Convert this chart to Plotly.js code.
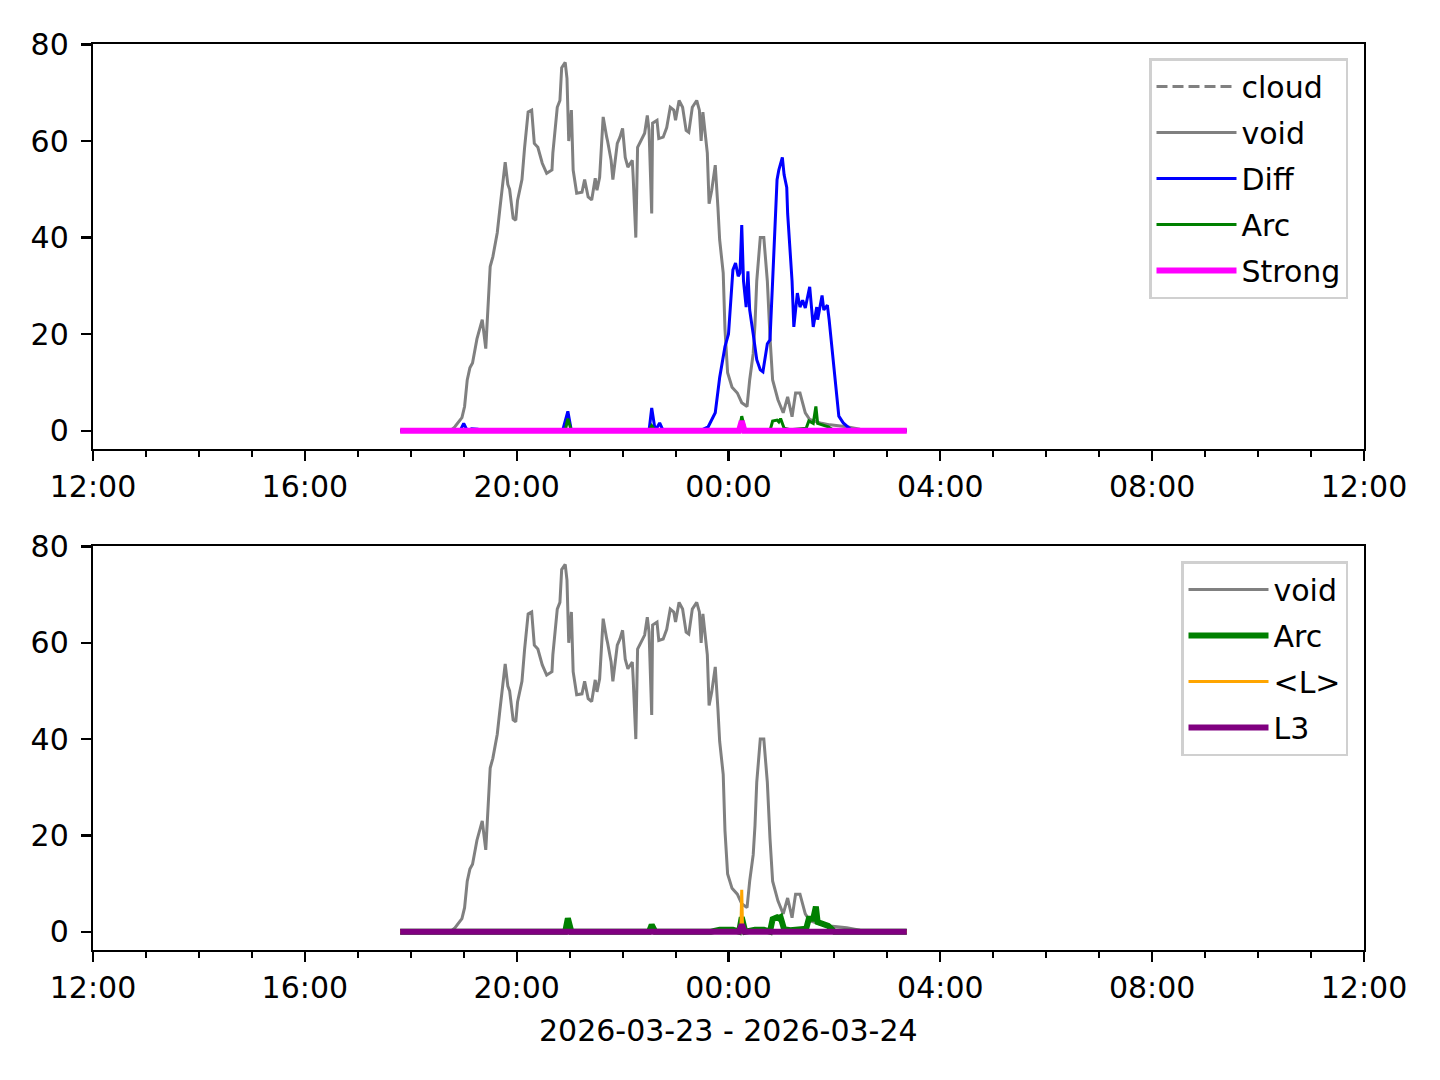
<!DOCTYPE html>
<html>
<head>
<meta charset="utf-8">
<script src="https://cdn.plot.ly/plotly-3.0.1.min.js"></script>
<style>
html,body{margin:0;padding:0;background:#fff;}
#chart{width:1440px;height:1080px;}
</style>
</head>
<body>
<div id="chart"></div>
<script>
// Times are HH:MM; hours >= 12 are on 2026-03-23, hours < 12 on 2026-03-24
const cloudTimes = ["17:48", "03:22"];
const cloudValues = [null, null];

const voidTimes = ["17:48","18:45","18:50","18:58","19:01","19:04","19:07","19:10","19:15","19:21","19:25","19:27","19:30","19:33","19:38","19:41","19:44","19:47","19:50","19:52","19:56","19:59","20:01","20:06","20:09","20:13","20:17","20:20","20:24","20:29","20:34","20:40","20:41","20:46","20:49","20:51","20:55","20:57","20:59","21:02","21:04","21:08","21:14","21:17","21:21","21:25","21:29","21:31","21:34","21:38","21:42","21:43","21:47","21:49","21:54","21:57","22:00","22:03","22:06","22:11","22:12","22:15","22:17","22:22","22:25","22:28","22:30","22:33","22:34","22:39","22:41","22:46","22:50","22:54","22:58","23:00","23:04","23:08","23:12","23:15","23:19","23:24","23:27","23:29","23:31","23:36","23:38","23:41","23:45","23:48","23:50","23:54","23:56","23:59","00:04","00:10","00:15","00:21","00:24","00:28","00:30","00:32","00:36","00:40","00:44","00:47","00:50","00:56","01:02","01:07","01:12","01:16","01:21","01:27","01:32","01:44","01:55","02:14","02:29","03:22"];
const voidValues = [0,0,0.8,2.7,5,10.5,13,14,19,23,17,23,34,36,41,46,51,55.6,51,50,44,43.6,47.7,52,58.7,66,66.4,59.5,58.7,55.4,53.3,54,57.5,67,68.4,75.2,76.3,73,60,66.4,54,49.2,49.4,52,48.4,47.8,52.3,49.8,52.5,65,60.8,60,56,52,59.5,60.8,62.6,56.6,54.6,56,52.5,40,58.7,60.5,61.6,65.3,62.2,45,63.7,64.3,60.5,60.8,62.8,67,66.4,64.3,68.4,67,62.2,61.8,67,68.4,66.4,60,66,57.5,47,49.8,55,46.3,39.5,32.7,21,12,9,7.8,5.8,5,10.5,16,22,31,40,40,31,19.4,10.5,6.4,3.7,7,2.9,7.8,7.8,3.7,2.3,1.6,1.2,0.8,0.3,0.2];

const diffTimes = ["17:48","18:56","19:00","19:04","19:09","19:16","19:21","20:52","20:58","21:02","22:30","22:33","22:37","22:42","22:46","23:28","23:37","23:45","23:50","23:56","00:00","00:04","00:05","00:08","00:11","00:13","00:15","00:17","00:20","00:22","00:24","00:28","00:32","00:36","00:39","00:44","00:47","00:50","00:55","00:57","01:01","01:03","01:06","01:07","01:12","01:14","01:18","01:21","01:24","01:27","01:32","01:36","01:40","01:41","01:46","01:48","01:52","01:54","01:57","02:01","02:03","02:05","02:10","02:15","02:20","03:22"];
const diffValues = [0,0,1.5,0,0.4,0.3,0,0,4,0,0,4.7,0,1.6,0,0,0.8,3.7,11,17.4,20,32,33.3,34.7,32,32.7,42.6,31,25.6,33,25,20,14.7,12.6,12.2,18,18.8,31,52,54,56.6,53,50.4,45,31,21.5,28.5,25.6,27,25.4,29.8,21.5,25.6,23,28,25,26,23,17.4,9,6,3,1.6,0.8,0,0];

const arcTimes = ["17:48","20:55","20:58","21:02","22:30","22:33","22:37","23:40","23:50","00:05","00:12","00:15","00:19","00:30","00:40","00:47","00:50","00:55","00:57","00:59","01:03","01:10","01:28","01:31","01:36","01:39","01:41","01:46","01:53","02:00","03:22"];
const arcTopValues = [0,0,2.5,0,0,1,0,0,0.2,0.2,0,3,0,0.2,0.2,0,2,2.2,1.8,2.5,0.5,0.2,0.5,2,1.5,5,1.5,1.2,0.8,0,0];
const arcBottomValues = [0,0,2.8,0,0,1.4,0,0,0.4,0.4,0,3,0,0.4,0.4,0,2.6,3,2.8,3,0.5,0.3,0.6,2.7,2.7,5.2,2,1.6,1.2,0,0];

const strongTimes = ["17:48","00:12","00:15","00:18","03:22"];
const strongValues = [0,0,2,0,0];

const lTimes = ["17:48","00:14","00:15","00:16","03:22"];
const lValues = [0,0,8.7,0,0];

const l3Times = ["17:48","00:12","00:15","00:18","03:22"];
const l3Values = [0,0,1.5,0,0];

const yTicks = [0, 20, 40, 60, 80];
const xLabel = "2026-03-23 - 2026-03-24";

function toDate(t) {
  const h = parseInt(t.slice(0, 2), 10);
  return (h >= 12 ? "2026-03-23 " : "2026-03-24 ") + t;
}
function X(arr) { return arr.map(toDate); }

const FONT = "DejaVu Sans, sans-serif";
const FS = 30;
const THIN = 3, THICK = 6;

function tr(name, times, vals, color, width, ax, legend, dash) {
  return {
    type: "scatter", mode: "lines", name: name,
    x: X(times), y: vals,
    line: {color: color, width: width, dash: dash || "solid"},
    xaxis: ax[0], yaxis: ax[1],
    legend: legend, legendgroup: name + legend,
    showlegend: true, hoverinfo: "skip"
  };
}

const data = [
  tr("cloud", cloudTimes, cloudValues, "#808080", THIN, ["x","y"], "legend", "11px,5px"),
  tr("void", voidTimes, voidValues, "#808080", THIN, ["x","y"], "legend"),
  tr("Diff", diffTimes, diffValues, "#0000ff", THIN, ["x","y"], "legend"),
  tr("Arc", arcTimes, arcTopValues, "#008000", THIN, ["x","y"], "legend"),
  tr("Strong", strongTimes, strongValues, "#ff00ff", THICK, ["x","y"], "legend"),
  tr("void", voidTimes, voidValues, "#808080", THIN, ["x2","y2"], "legend2"),
  tr("Arc", arcTimes, arcBottomValues, "#008000", THICK, ["x2","y2"], "legend2"),
  tr("<L>", lTimes, lValues, "#ffa500", THIN, ["x2","y2"], "legend2"),
  tr("L3", l3Times, l3Values, "#800080", THICK, ["x2","y2"], "legend2")
];

const W = 1440, H = 1080;
const xDom = [93 / W, 1364 / W];

function xAxis(anchor) {
  return {
    domain: xDom, anchor: anchor, type: "date",
    range: ["2026-03-23 12:00", "2026-03-24 12:00"],
    tickformat: "%H:%M", dtick: 4 * 3600000, tick0: "2026-03-23 12:00",
    ticks: "outside", ticklen: 10, tickwidth: 2.2, tickcolor: "#000",
    minor: {dtick: 3600000, tick0: "2026-03-23 12:00", ticks: "outside", ticklen: 5.5, tickwidth: 2, tickcolor: "#000", showgrid: false},
    showline: true, mirror: true, linecolor: "#000", linewidth: 2.2,
    showgrid: false, zeroline: false, automargin: false,
    tickfont: {family: FONT, size: FS, color: "#000"}
  };
}
function yAxis(anchor, dom) {
  return {
    domain: dom, anchor: anchor, range: [-3.8, 80.1],
    tickvals: yTicks, ticktext: yTicks.map(String),
    ticks: "outside", ticklen: 10, tickwidth: 2.2, tickcolor: "#000",
    ticklabelstandoff: 6,
    showline: true, mirror: true, linecolor: "#000", linewidth: 2.2,
    showgrid: false, zeroline: false, automargin: false,
    tickfont: {family: FONT, size: FS, color: "#000"}
  };
}

const legendBase = {
  xref: "paper", yref: "paper", xanchor: "right", yanchor: "top",
  bgcolor: "rgba(255,255,255,0.8)", bordercolor: "#d0d0d0", borderwidth: 2.5,
  font: {family: FONT, size: FS, color: "#000"},
  tracegroupgap: 4, itemwidth: 80
};

const layout = {
  width: W, height: H,
  margin: {l: 0, r: 0, t: 0, b: 0},
  paper_bgcolor: "#fff", plot_bgcolor: "#fff",
  font: {family: FONT, size: FS, color: "#000"},
  xaxis: xAxis("y"),
  yaxis: yAxis("x", [1 - 449 / H, 1 - 44 / H]),
  xaxis2: xAxis("y2"),
  yaxis2: yAxis("x2", [1 - 950 / H, 1 - 546 / H]),
  legend: Object.assign({}, legendBase, {x: 1348 / W, y: 1 - 58 / H}),
  legend2: Object.assign({}, legendBase, {x: 1348 / W, y: 1 - 561 / H}),
  annotations: [{
    text: xLabel, xref: "paper", yref: "paper",
    x: 728.5 / W, y: 1 - 1030 / H, xanchor: "center", yanchor: "middle",
    showarrow: false, font: {family: FONT, size: FS, color: "#000"}
  }]
};

Plotly.newPlot("chart", data, layout, {staticPlot: true, displayModeBar: false});
</script>
</body>
</html>
